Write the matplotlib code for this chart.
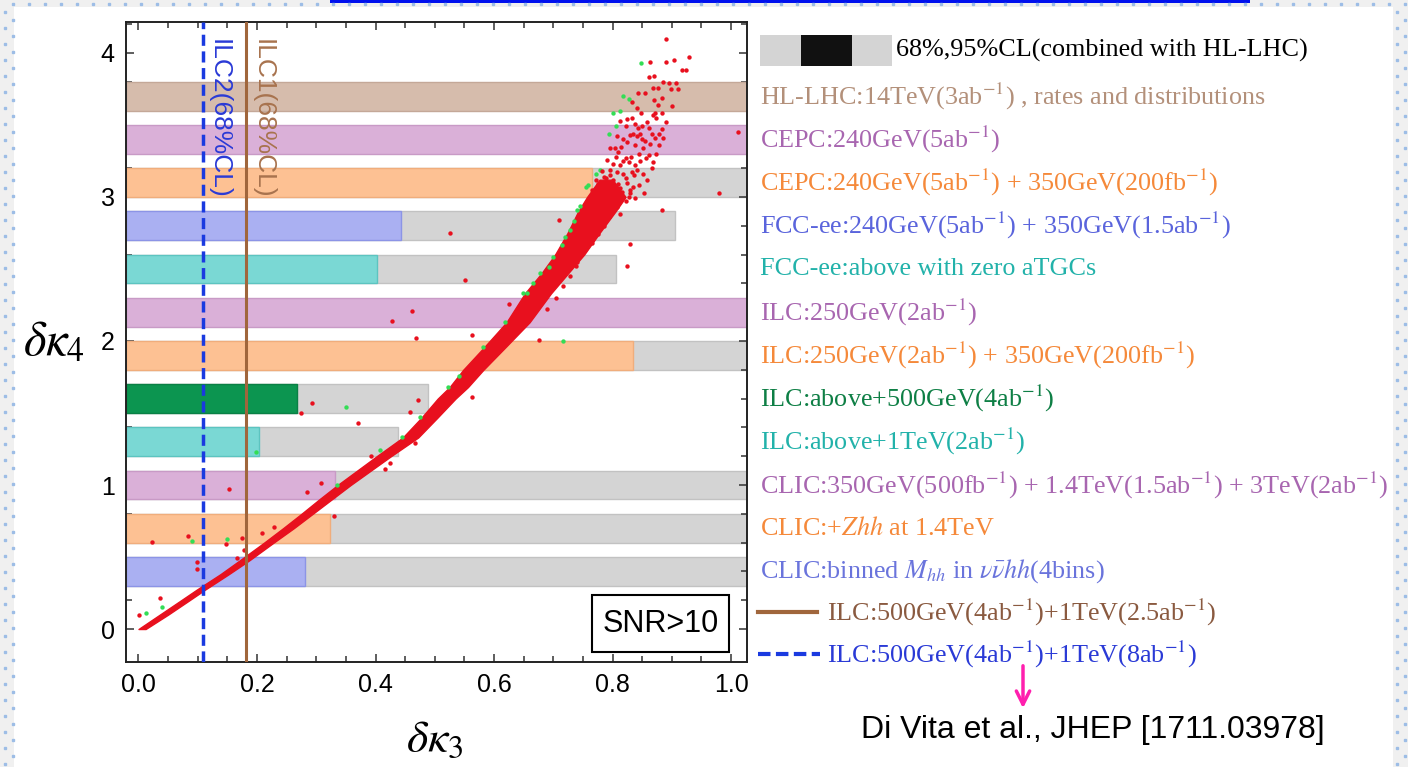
import numpy as np
import matplotlib
matplotlib.use("Agg")
import matplotlib.pyplot as plt
from matplotlib.patches import Rectangle, FancyArrowPatch
from matplotlib.lines import Line2D
from matplotlib.transforms import blended_transform_factory

plt.rcParams['mathtext.fontset'] = 'stix'

# horizontal bands: centre in dk4, reach of the 68% and 95% parts in dk3
# (1.2 means it runs past the right frame)
rows = [3.7, 3.4, 3.1, 2.8, 2.5, 2.2, 1.9, 1.6, 1.3, 1.0, 0.7, 0.4]
reach68 = [1.2, 1.2, 0.765, 0.4425, 0.4025, 1.2, 0.835, 0.2675, 0.203, 0.332, 0.323, 0.281]
reach95 = [1.2, 1.2, 1.2, 0.905, 0.806, 1.2, 1.2, 0.4886, 0.438, 1.2, 1.2, 1.2]
labels = [
    r'HL-LHC:14TeV(3ab$^{-1}$) , rates and distributions',
    r'CEPC:240GeV(5ab$^{-1}$)',
    r'CEPC:240GeV(5ab$^{-1}$) + 350GeV(200fb$^{-1}$)',
    r'FCC-ee:240GeV(5ab$^{-1}$) + 350GeV(1.5ab$^{-1}$)',
    r'FCC-ee:above with zero aTGCs',
    r'ILC:250GeV(2ab$^{-1}$)',
    r'ILC:250GeV(2ab$^{-1}$) + 350GeV(200fb$^{-1}$)',
    r'ILC:above+500GeV(4ab$^{-1}$)',
    r'ILC:above+1TeV(2ab$^{-1}$)',
    r'CLIC:350GeV(500fb$^{-1}$) + 1.4TeV(1.5ab$^{-1}$) + 3TeV(2ab$^{-1}$)',
    r'CLIC:+$Zhh$ at 1.4TeV',
    r'CLIC:binned $M_{hh}$ in $\nu\bar{\nu}hh$(4bins)',
]
bar_colors = ['#d6bcac', '#dab0d8', '#fdc193', '#aab0f2', '#7ad8d4', '#dab0d8',
              '#fdc193', '#0c9550', '#7ad8d4', '#dab0d8', '#fdc193', '#aab0f2']
edge_colors = ['#c4a898', '#c89ac6', '#f0ad7c', '#8c94e6', '#5cc4c0', '#c89ac6',
               '#f0ad7c', '#0a8045', '#5cc4c0', '#c89ac6', '#f0ad7c', '#8c94e6']
text_colors = ['#b3907a', '#a866b0', '#f5893a', '#5a64dc', '#22b2aa', '#a866b0',
               '#f5893a', '#0e7f45', '#22b2aa', '#a866b0', '#f5893a', '#6a74dc']

# ILC 68% limits on dk3
ilc1 = 0.182
ilc2 = 0.109

# dense core of the scan (left / right edge in dk3 for a given dk4)
band_y = [0.00, 0.10, 0.20, 0.27, 0.38, 0.48, 0.60, 0.70, 0.80, 0.90, 1.00, 1.10,
          1.20, 1.33, 1.47, 1.60, 1.68, 1.80, 1.96, 2.13, 2.33, 2.47, 2.60, 2.75,
          2.90, 3.00, 3.12]
band_xl = [0.000, 0.036, 0.072, 0.097, 0.138, 0.172, 0.212, 0.244, 0.275, 0.305,
           0.336, 0.369, 0.402, 0.446, 0.478, 0.505, 0.525, 0.548, 0.584, 0.621,
           0.652, 0.680, 0.703, 0.724, 0.742, 0.757, 0.778]
band_xr = [0.012, 0.050, 0.086, 0.111, 0.152, 0.188, 0.228, 0.262, 0.294, 0.326,
           0.358, 0.392, 0.426, 0.472, 0.505, 0.535, 0.556, 0.582, 0.620, 0.660,
           0.696, 0.725, 0.752, 0.778, 0.805, 0.822, 0.800]

red_x = [0.890, 0.863, 0.891, 0.903, 0.929, 0.917, 0.924, 0.862, 0.870, 0.885,
         0.895, 0.907, 0.899, 0.910, 0.877, 0.869, 0.843, 0.855, 0.883, 0.870,
         0.900, 0.876, 0.841, 0.832, 0.872, 0.868, 0.890, 0.833, 0.824, 0.813,
         0.858, 0.850, 0.843, 0.883, 0.878, 0.872, 0.885, 0.835, 0.841, 0.846,
         0.855, 0.863, 0.824, 0.814, 0.804, 0.852, 0.844, 0.861, 0.831, 0.822,
         0.810, 0.801, 0.813, 0.827, 0.838, 0.846, 0.796, 0.807, 0.818, 0.832,
         0.841, 0.851, 0.785, 0.790, 0.801, 0.810, 0.824, 0.835, 0.816, 0.804,
         0.796, 0.827, 0.782, 0.773, 0.796,
         0.792, 0.808, 0.822, 0.838, 0.768, 0.781, 0.765, 0.776, 0.788, 0.812,
         0.829, 0.845, 0.853, 0.772, 0.783, 0.795, 0.822, 0.836, 0.858, 0.866,
         0.790, 0.806, 0.817, 0.856, 0.868, 0.874, 0.818, 0.829, 0.838, 0.849,
         0.866, 0.879, 0.808, 0.822, 0.838, 0.862, 0.874, 0.848, 0.884,
         0.785, 0.794, 0.776, 0.765, 0.752, 0.740, 0.812, 0.705, 0.716, 0.728,
         0.690, 0.738, 0.815, 0.830, 0.800, 0.789,
         1.011, 0.980, 0.883, 0.830, 0.825, 0.709, 0.526, 0.551,
         0.626, 0.462, 0.428, 0.468, 0.562, 0.676, 0.563, 0.472, 0.292, 0.275,
         0.458, 0.370, 0.467, 0.392, 0.424, 0.416, 0.3075, 0.284, 0.153,
         0.0225, 0.084, 0.148, 0.175, 0.208, 0.229, 0.330, 0.0995, 0.098, 0.166,
         0.178, 0.0015, 0.036]
red_y = [4.10, 3.94, 3.94, 3.95, 3.97, 3.88, 3.88, 3.83, 3.84, 3.80,
         3.79, 3.79, 3.75, 3.75, 3.76, 3.76, 3.72, 3.72, 3.69, 3.67,
         3.63, 3.64, 3.62, 3.66, 3.58, 3.57, 3.52, 3.55, 3.54, 3.53,
         3.52, 3.49, 3.48, 3.47, 3.44, 3.41, 3.41, 3.44, 3.42, 3.44,
         3.39, 3.37, 3.38, 3.35, 3.34, 3.34, 3.30, 3.29, 3.28, 3.27,
         3.31, 3.23, 3.22, 3.24, 3.22, 3.25, 3.185, 3.17, 3.16, 3.17,
         3.185, 3.16, 3.14, 3.10, 3.12, 3.09, 3.10, 3.07, 3.035, 3.02,
         3.06, 3.00, 3.07, 3.035, 3.34,
         2.95, 2.93, 2.97, 2.99, 2.98, 2.92, 3.05, 3.09, 3.04, 3.06,
         3.05, 3.08, 3.03, 3.12, 3.18, 3.15, 3.13, 3.15, 3.12, 3.20,
         3.26, 3.28, 3.25, 3.27, 3.24, 3.30, 3.40, 3.43, 3.36, 3.40,
         3.44, 3.36, 3.42, 3.49, 3.51, 3.48, 3.55, 3.58, 3.58,
         2.80, 2.86, 2.74, 2.68, 2.63, 2.55, 2.88, 2.30, 2.38, 2.45,
         2.22, 2.52, 3.01, 3.03, 3.08, 3.13,
         3.45, 3.03, 2.91, 2.67, 2.52, 2.84, 2.75, 2.42,
         2.255, 2.21, 2.14, 2.02, 2.045, 2.01, 1.61, 1.59, 1.57, 1.50,
         1.51, 1.43, 1.29, 1.20, 1.15, 1.11, 1.015, 0.95, 0.975,
         0.606, 0.647, 0.588, 0.634, 0.668, 0.71, 0.784, 0.467, 0.416, 0.49,
         0.548, 0.10, 0.217]

green_x = [0.848, 0.818, 0.828, 0.801, 0.813, 0.806, 0.794, 0.779, 0.772, 0.759,
           0.756, 0.745, 0.740, 0.735, 0.728, 0.720, 0.714, 0.700, 0.692, 0.678,
           0.666, 0.655, 0.649, 0.619, 0.582, 0.541, 0.523, 0.475, 0.444, 0.408,
           0.335, 0.350, 0.198, 0.091, 0.150, 0.012, 0.040, 0.716]
green_y = [3.93, 3.70, 3.68, 3.58, 3.60, 3.49, 3.44, 3.185, 3.16, 3.08,
           3.07, 2.94, 2.91, 2.83, 2.77, 2.72, 2.665, 2.58, 2.515, 2.47,
           2.40, 2.33, 2.33, 2.13, 1.96, 1.76, 1.68, 1.47, 1.33, 1.24,
           1.00, 1.54, 1.23, 0.613, 0.625, 0.109, 0.155, 2.00]

W, H = 1408, 767
fig = plt.figure(figsize=(W / 100, H / 100), dpi=100)
fig.patch.set_facecolor('#f0f0f0')
fig.add_artist(Rectangle((14 / W, 0), (1393 - 14) / W, (H - 7) / H,
                         transform=fig.transFigure, facecolor='white',
                         edgecolor='none', zorder=-10))
fig.add_artist(Rectangle((330 / W, 1 - 2.5 / H), 920 / W, 2.5 / H,
                         transform=fig.transFigure, facecolor='#0010ee',
                         edgecolor='none', zorder=-9))
dot = dict(marker='s', ms=1.6, ls='none', color='#9dbde6', transform=fig.transFigure)
tx = np.arange(13, W, 16)
fig.add_artist(Line2D(tx / W, np.full(len(tx), 1 - 4 / H), **dot))
ly = np.arange(12, H, 16)
fig.add_artist(Line2D(np.full(len(ly), 5 / W), 1 - ly / H, **dot))
fig.add_artist(Line2D(np.full(len(ly), 12.7 / W), 1 - (ly + 8) / H, **dot))
fig.add_artist(Line2D(np.full(len(ly), 1397 / W), 1 - ly / H, **dot))
fig.add_artist(Line2D(np.full(len(ly), 1405 / W), 1 - (ly + 8) / H, **dot))

ax = fig.add_axes([125.7 / W, 1 - 662 / H, 621 / W, 640.3 / H])
ax.set_xlim(-0.0216, 1.0264)
ax.set_ylim(-0.229, 4.217)
x0 = ax.get_xlim()[0]

for y, r68, r95, c, ec in zip(rows, reach68, reach95, bar_colors, edge_colors):
    if r95 > r68:
        ax.barh(y, r95 - x0, left=x0, height=0.2, color='#d4d4d4',
                edgecolor='#c2c2c2', linewidth=1, zorder=1)
    ax.barh(y, r68 - x0, left=x0, height=0.2, color=c, edgecolor=ec,
            linewidth=1, zorder=2)

red = '#e8101e'
ax.fill_betweenx(band_y, band_xl, band_xr, color=red, lw=1, zorder=3)
ax.scatter(green_x, green_y, s=10, color='#33dd55', lw=0, zorder=4)
ax.scatter(red_x, red_y, s=10, color=red, lw=0, zorder=4)

ax.axvline(ilc1, color='#a0663c', lw=2.2, zorder=5)
ax.axvline(ilc2, color='#1a3ae0', lw=2.5, dashes=(3.2, 1.6), zorder=5)
ax.text(ilc2 + 0.006, 4.1, 'ILC2(68%CL)', rotation=-90, ha='left', va='top',
        fontsize=19, family='Liberation Sans', color='#2a3ad6', zorder=6)
ax.text(ilc1 + 0.008, 4.1, 'ILC1(68%CL)', rotation=-90, ha='left', va='top',
        fontsize=19, family='Liberation Sans', color='#a8734e', zorder=6)

ax.add_patch(Rectangle((0.751, 0.0156), 0.2205, 0.089, transform=ax.transAxes,
                       facecolor='white', edgecolor='black', lw=1.5, zorder=7))
ax.text(0.8613, 0.0601, 'SNR>10', transform=ax.transAxes, ha='center',
        va='center', fontsize=22, family='Liberation Sans', zorder=8)

ax.set_xticks(np.arange(0, 1.01, 0.2))
ax.set_xticks(np.arange(0, 1.03, 0.05), minor=True)
ax.set_yticks([0, 1, 2, 3, 4])
ax.set_yticks(np.arange(0, 4.21, 0.2), minor=True)
ax.set_xticklabels(['0.0', '0.2', '0.4', '0.6', '0.8', '1.0'])
ax.tick_params(which='both', direction='in', top=True, right=True, width=1.1,
               labelsize=18, color='#333333')
ax.tick_params(which='major', length=6, pad=8)
ax.tick_params(which='minor', length=4)
for lab in ax.get_xticklabels() + ax.get_yticklabels():
    lab.set_family('Liberation Sans')
for sp in ax.spines.values():
    sp.set_linewidth(1.4)
    sp.set_color('#222222')

fig.text(53.5 / W, 1 - 341 / H, r'$\delta\kappa_4$', fontsize=35, ha='center', va='center')
fig.text(434.6 / W, 1 - 740 / H, r'$\delta\kappa_3$', fontsize=33, ha='center', va='center')

# legend on the right, rows lined up with the bands
lt = blended_transform_factory(fig.transFigure, ax.transData)
lx = 760 / W
fs = 18.8
fig.add_artist(Rectangle((lx, 3.91), 132 / W, 0.215, transform=lt,
                         facecolor='#d4d4d4', edgecolor='none'))
fig.add_artist(Rectangle((801 / W, 3.91), 50.5 / W, 0.215, transform=lt,
                         facecolor='#111111', edgecolor='none'))
fig.text(896 / W, 4.02, '68%,95%CL(combined with HL-LHC)', transform=lt,
         fontsize=fs, family='Liberation Serif', va='center', color='black')
for y, lab, c in zip(rows, labels, text_colors):
    fig.text(lx, y, lab, transform=lt, fontsize=fs, family='Liberation Serif',
             va='center', color=c)
fig.add_artist(Line2D([758 / W, 817 / W], [0.115, 0.115], transform=lt,
                      color='#a0663c', lw=3))
fig.text(827 / W, 0.115, r'ILC:500GeV(4ab$^{-1}$)+1TeV(2.5ab$^{-1}$)', transform=lt,
         fontsize=fs, family='Liberation Serif', va='center', color='#8a5a40')
fig.add_artist(Line2D([758 / W, 820 / W], [-0.175, -0.175], transform=lt,
                      color='#1a3ae0', lw=3, dashes=(3, 1.3)))
fig.text(827 / W, -0.175, r'ILC:500GeV(4ab$^{-1}$)+1TeV(8ab$^{-1}$)', transform=lt,
         fontsize=fs, family='Liberation Serif', va='center', color='#2a3ad6')

fig.add_artist(FancyArrowPatch(
    (1023 / W, 1 - 663 / H), (1023 / W, 1 - 711 / H), transform=fig.transFigure,
    arrowstyle='->', mutation_scale=24, color='#ff1fae', lw=2.5))
fig.text(1092.5 / W, 1 - 730 / H, 'Di Vita et al., JHEP [1711.03978]',
         fontsize=23, family='Liberation Sans', ha='center', va='center')

fig.savefig('out.png', dpi=100, facecolor=fig.get_facecolor())
